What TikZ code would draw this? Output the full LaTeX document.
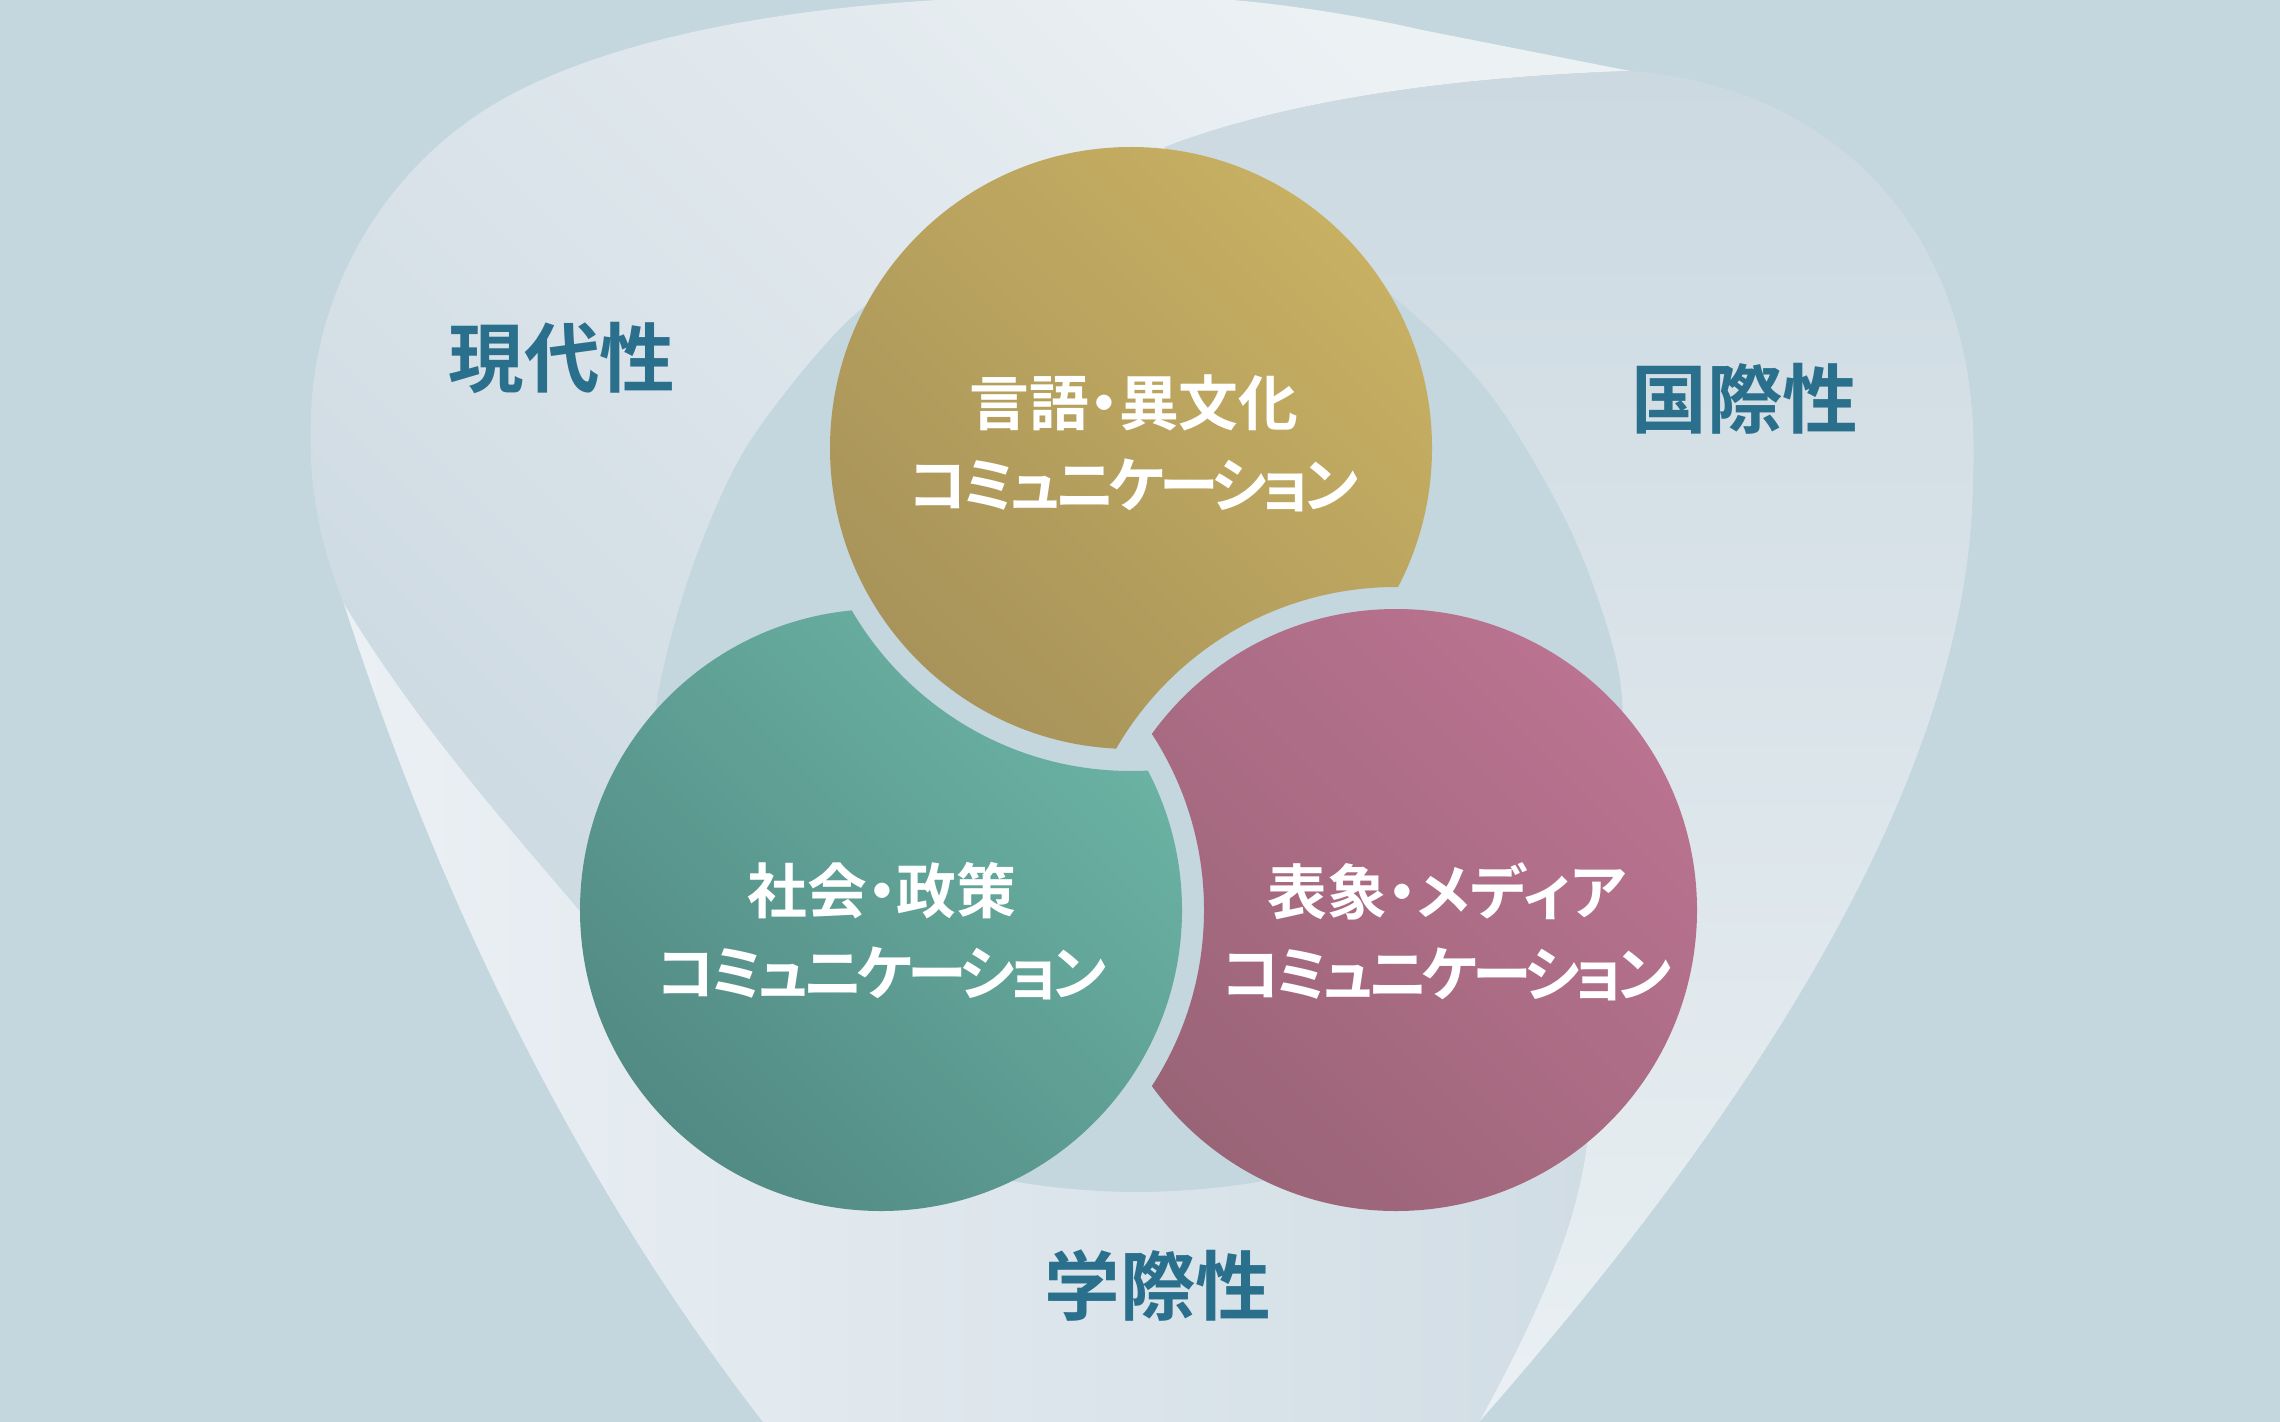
\documentclass[tikz,border=0pt]{standalone}
\usepackage{fontspec}
\newfontfamily\jp{Noto Sans CJK JP}[RawFeature=+palt,BoldFont=* Bold]
\newfontfamily\jpkana{Noto Sans CJK JP}[RawFeature=+palt,BoldFont=* Bold,LetterSpace=-9.3]
\usepackage{tikz}

\definecolor{backdrop}{HTML}{C4D6DE}
\definecolor{labelblue}{HTML}{2A6F8B}
\definecolor{paleA}{HTML}{ECF1F4}
\definecolor{deepA}{HTML}{CFDBE3}
\definecolor{paleB}{HTML}{EAF0F3}
\definecolor{deepB}{HTML}{CCD9E1}
\definecolor{paleC}{HTML}{EBF0F4}
\definecolor{deepC}{HTML}{D1DDE5}
\definecolor{goldhi}{HTML}{C7B062}
\definecolor{goldlo}{HTML}{A8935A}
\definecolor{tealhi}{HTML}{6BB3A4}
\definecolor{teallo}{HTML}{528A84}
\definecolor{rosehi}{HTML}{BA7390}
\definecolor{roselo}{HTML}{9A6477}

\begin{document}
\begin{tikzpicture}[x=0.01cm,y=-0.01cm,
  petal A/.style={top color=paleA,bottom color=deepA,shading angle=-45},
  petal B/.style={top color=deepB,bottom color=paleB},
  petal C/.style={left color=paleC,right color=deepC},
  gold disc/.style={top color=goldhi,bottom color=goldlo,shading angle=-45},
  teal disc/.style={top color=tealhi,bottom color=teallo,shading angle=-45},
  rose disc/.style={top color=rosehi,bottom color=roselo,shading angle=-45},
  circle text/.style={text=white,align=center,inner sep=0pt,
    font=\jp\bfseries\fontsize{17pt}{23.3pt}\selectfont},
  field label/.style={text=labelblue,inner sep=0pt,
    font=\jp\bfseries\fontsize{21.5pt}{26pt}\selectfont}]

  \useasboundingbox (0,0) rectangle (2280,1422);
  \fill[backdrop] (0,0) rectangle (2280,1422);

  \coordinate (hub) at (1140,650);
  \coordinate (gengo) at (1131,448);
  \coordinate (shakai) at (881,910);
  \coordinate (hyosho) at (1396,910);

  \shade[petal A] (344,604) .. controls (318,540) and (308,480) .. (311,420)
    .. controls (312,300) and (380,160) .. (520,90)
    .. controls (680,10) and (950,-15) .. (1233,0)
    .. controls (1300,6) and (1370,18) .. (1422,30) -- (1630,71)
    .. controls (1480,76) and (1300,95) .. (1165,147)
    -- (1131,400) -- (hub) -- (shakai) -- (583,915)
    .. controls (520,840) and (420,730) .. (344,604) -- cycle;
  \shade[petal B] (1630,71) .. controls (1830,85) and (1985,230) .. (1973,478)
    .. controls (1972,700) and (1850,1000) .. (1479,1422)
    .. controls (1540,1310) and (1580,1220) .. (1588,1133)
    -- (hyosho) -- (hub) -- (1131,400) -- (1165,147)
    .. controls (1300,95) and (1480,76) .. (1630,71) -- cycle;
  \shade[petal C] (1479,1422) -- (1479,1450) -- (763,1450) -- (763,1422)
    .. controls (560,1160) and (430,870) .. (344,604)
    .. controls (420,730) and (520,840) .. (583,915)
    -- (shakai) -- (hub) -- (hyosho) -- (1588,1133)
    .. controls (1580,1220) and (1540,1310) .. (1479,1422) -- cycle;

  \fill[backdrop] plot[smooth cycle] coordinates {(1131,220) (1330,260) (1420,320) (1500,408) (1575,540) (1620,680) (1615,820) (1560,960) (1460,1090) (1300,1172) (1137,1192) (975,1172) (815,1090) (715,960) (660,820) (656,708) (690,574) (747,446) (850,319) (960,250)};

  \begin{scope}
    \clip (0,0) rectangle (2280,1422) (hyosho) circle[radius=323];
    \shade[gold disc] (gengo) circle[radius=301];
  \end{scope}
  \begin{scope}
    \clip (0,0) rectangle (2280,1422) (gengo) circle[radius=323];
    \shade[teal disc] (shakai) circle[radius=301];
  \end{scope}
  \begin{scope}
    \clip (0,0) rectangle (2280,1422) (shakai) circle[radius=323];
    \shade[rose disc] (hyosho) circle[radius=301];
  \end{scope}

  \node[circle text] (gengo text) at (1134,443) {言語・異文化\\{\jpkana コミュニケーション}};
  \node[circle text] (shakai text) at (882,931) {社会・政策\\{\jpkana コミュニケーション}};
  \node[circle text] (hyosho text) at (1447,932) {表象・メディア\\{\jpkana コミュニケーション}};

  \node[field label] (gendai) at (562,358) {現代性};
  \node[field label] (kokusai) at (1745,399) {国際性};
  \node[field label] (gakusai) at (1158,1286) {学際性};
\end{tikzpicture}
\end{document}
